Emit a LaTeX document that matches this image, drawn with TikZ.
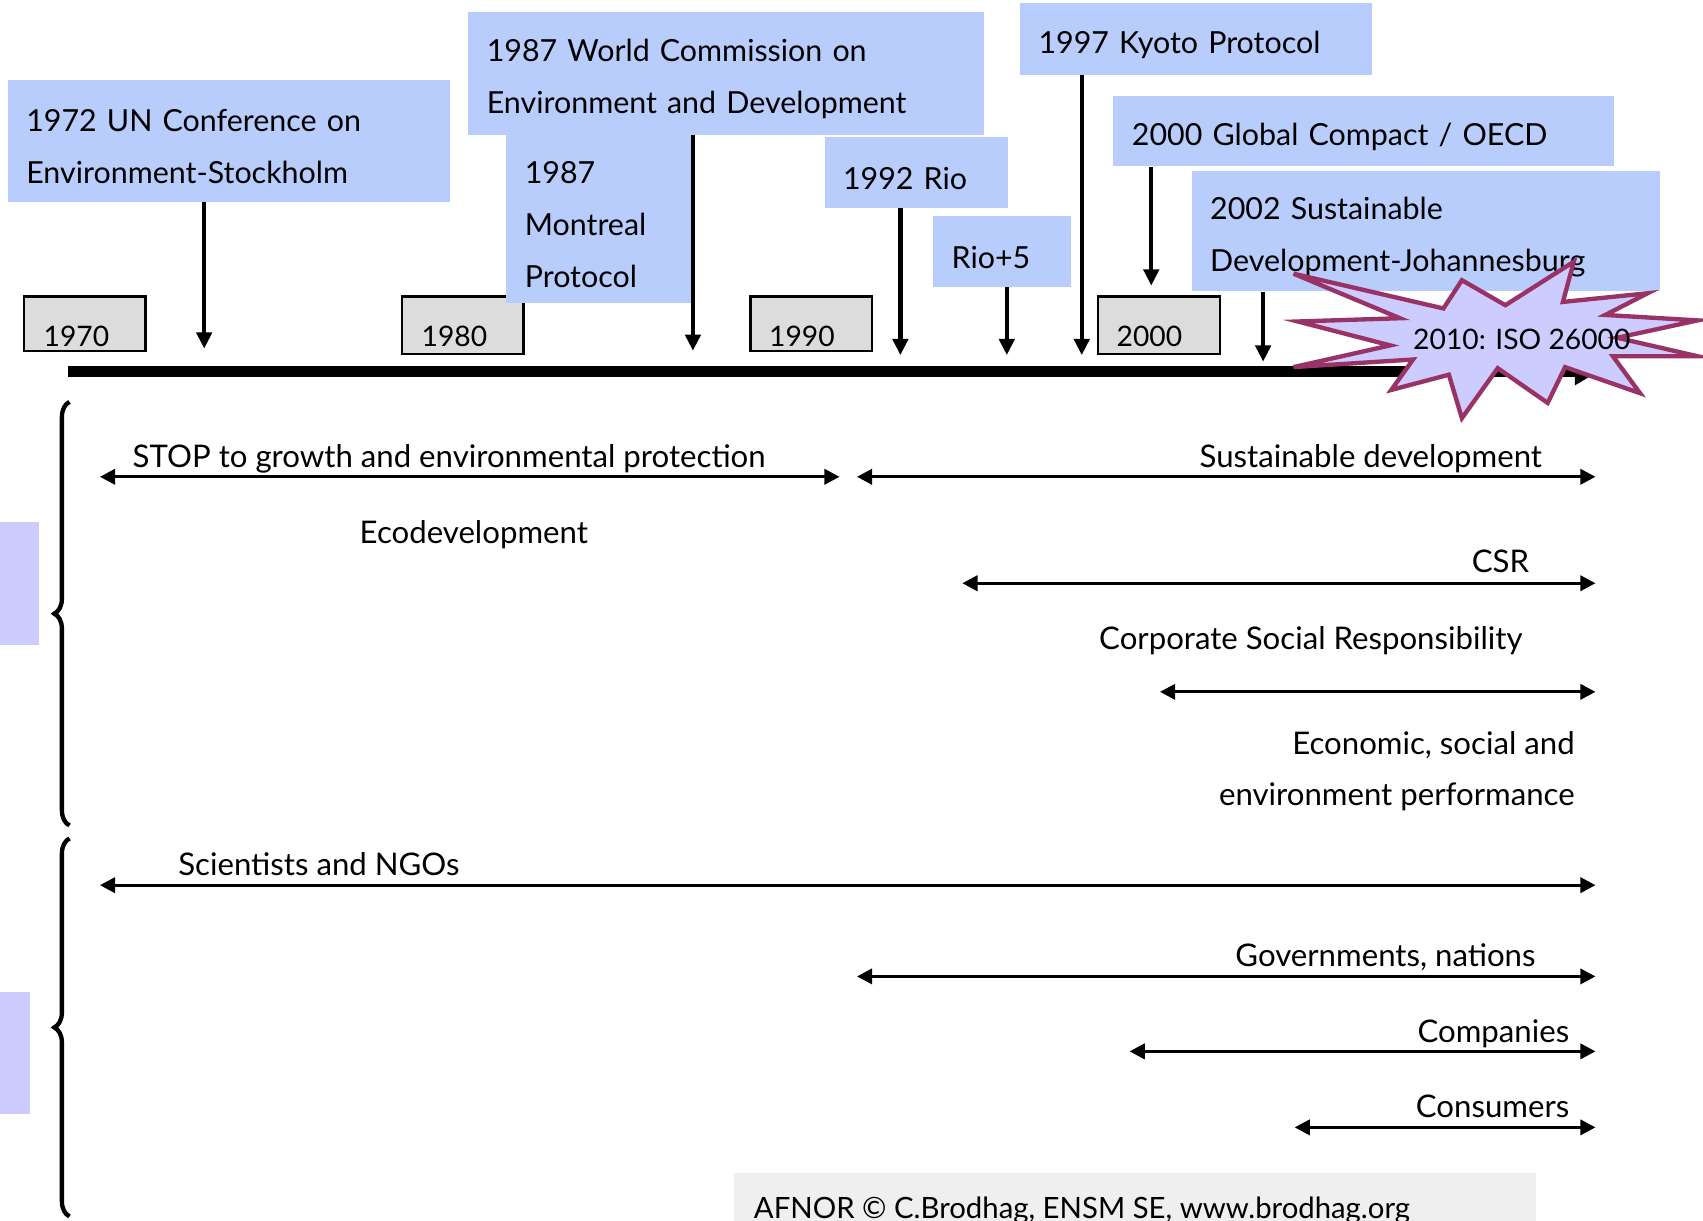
\documentclass[tikz,border=0pt]{standalone}
\usepackage{fontspec}
\setmainfont{Lato}
\usetikzlibrary{arrows.meta,decorations.pathreplacing}
\definecolor{EventBlue}{RGB}{184,205,251}
\definecolor{DecadeGray}{RGB}{220,220,220}
\definecolor{BurstFill}{RGB}{204,204,255}
\definecolor{BurstLine}{RGB}{153,51,102}
\definecolor{TabLilac}{RGB}{204,204,255}
\definecolor{FooterGray}{RGB}{239,239,239}
\newcommand{\tlfont}{\fontsize{28}{48}\selectfont}
\newcommand{\lblfont}{\fontsize{28.7}{48}\selectfont}
\newcommand{\yearfont}{\fontsize{26}{30}\selectfont}

\begin{document}
\begin{tikzpicture}
            [x=1pt,y=-1pt,
             event/.style = {fill=EventBlue,anchor=north west,align=left,inner xsep=17pt,inner ysep=0pt,font=\tlfont,execute at begin node=\rule{0pt}{31pt}},
             decade/.style = {draw,line width=2pt,fill=DecadeGray,anchor=north west,minimum width=112pt,minimum height=50pt,inner sep=0pt},
             decadetext/.style = {anchor=base west,inner sep=0pt,font=\yearfont},
             drop/.style = {line width=4pt,-{Triangle[length=15pt,width=14pt]}},
             span/.style = {line width=3pt,{Triangle[length=14pt,width=14pt]}-{Triangle[length=14pt,width=14pt]}},
             lbl/.style = {inner sep=0pt,font=\lblfont}]
            \useasboundingbox (0,0) rectangle (1568,1124);
            \clip (0,0) rectangle (1568,1124);

            % side tabs and footer
            \fill[TabLilac] (0,481) rectangle (36,594);
            \fill[TabLilac] (0,913) rectangle (28,1026);
            \fill[FooterGray] (676,1080) rectangle (1414,1140);
            \node[lbl,font=\fontsize{27}{30}\selectfont,anchor=base west] (Credit) at (694,1122) {AFNOR © C.Brodhag, ENSM SE, www.brodhag.org};

            % decades
            \node[decade] (D1970) at (21,272) {};
            \node[decade,minimum height=53pt] (D1980) at (369,272) {};
            \node[decade] (D1990) at (690,272) {};
            \node[decade,minimum height=53pt] (D2000) at (1010,272) {};
            \node[decadetext] (L1970) at ([xshift=19pt,yshift=5pt]D1970.south west) {1970};
            \node[decadetext] (L1980) at ([xshift=19pt,yshift=8pt]D1980.south west) {1980};
            \node[decadetext] (L1990) at ([xshift=18pt,yshift=5pt]D1990.south west) {1990};
            \node[decadetext] (L2000) at ([xshift=18pt,yshift=8pt]D2000.south west) {2000};

            % events
            \node[event,text width=373pt,minimum height=113pt] (Stockholm) at (7,73) {1972 UN Conference on\\Environment-Stockholm};
            \node[event,text width=441pt,minimum height=113pt] (Brundtland) at (431,11) {1987 World Commission on\\Environment and Development};
            \node[event,text width=136pt,minimum height=155pt,execute at begin node=\rule{0pt}{26pt}] (Montreal) at (466,124) {1987\\Montreal\\Protocol};
            \node[event,text width=290pt,minimum height=66pt] (Kyoto) at (939,3) {1997 Kyoto Protocol};
            \node[event,text width=135pt,minimum height=65pt] (Rio) at (759,126) {1992 Rio};
            \node[event,text width=93pt,minimum height=65pt] (RioFive) at (859,199) {Rio+5};
            \node[event,text width=427pt,minimum height=65pt] (Compact) at (1025,88) {2000 Global Compact / OECD};
            \node[event,text width=397pt,minimum height=111pt] (Johannesburg) at (1097,157) {2002 Sustainable\\Development-Johannesburg};

            \coordinate (T1972) at (188,321);
            \coordinate (T1987) at (638,323);
            \coordinate (T1992) at (829,327);
            \coordinate (T1997a) at (927,327);
            \coordinate (T1997b) at (996,327);
            \coordinate (T2000) at (1060,263);
            \coordinate (T2002) at (1163,333);
            \path[drop] (Stockholm.south -| T1972) edge (T1972);
            \path[drop] (Brundtland.south -| T1987) edge (T1987);
            \path[drop] (Rio.south -| T1992) edge (T1992);
            \path[drop] (RioFive.south -| T1997a) edge (T1997a);
            \path[drop] (Kyoto.south -| T1997b) edge (T1997b);
            \path[drop] (Compact.south -| T2000) edge (T2000);
            \path[drop] (Johannesburg.south -| T2002) edge (T2002);

            % time axis
            \coordinate (TimeStart) at (63,342);
            \coordinate (TimeEnd) at (1472,342);
            \draw[line width=10pt,-{Triangle[length=22pt,width=24pt]}] (TimeStart) -- (TimeEnd);

            % ISO 26000 burst
            \filldraw[fill=BurstFill,draw=BurstLine,line width=4pt]
                (1191,252) -- (1329,284) -- (1346,258) -- (1386,281) -- (1449,241) -- (1439,278)
                -- (1517,270) -- (1478,290) -- (1563,295) -- (1489,311) -- (1563,328) -- (1485,328)
                -- (1510,362) -- (1441,338) -- (1425,371) -- (1379,339) -- (1346,385) -- (1334,345)
                -- (1281,359) -- (1301,331) -- (1191,338) -- (1280,318) -- (1195,296) -- (1289,293) -- cycle;
            \node[lbl,font=\yearfont,anchor=base west] (Iso) at (1301,322) {2010: ISO 26000};

            % braces
            \draw[line width=4pt,decorate,decoration={brace,amplitude=14pt}] (64,760) -- (64,370);
            \draw[line width=4pt,decorate,decoration={brace,amplitude=14pt}] (64,1120) -- (64,772);

            % concepts
            \coordinate (StopL) at (92,439);
            \coordinate (StopR) at (773,439);
            \coordinate (SustL) at (789,439);
            \coordinate (SustR) at (1469,439);
            \coordinate (CsrL) at (886,537);
            \coordinate (CsrR) at (1469,537);
            \coordinate (PerfL) at (1068,637);
            \coordinate (PerfR) at (1469,637);
            \path[span] (StopL) edge (StopR);
            \path[span] (SustL) edge (SustR);
            \path[span] (CsrL) edge (CsrR);
            \path[span] (PerfL) edge (PerfR);
            \node[lbl,anchor=base west] (Stop) at (122,430) {STOP to growth and environmental protection};
            \node[lbl,anchor=base east] (Sustainable) at (1420,430) {Sustainable development};
            \node[lbl,anchor=base west] (Ecodev) at (331,500) {Ecodevelopment};
            \node[lbl,anchor=base east] (Csr) at (1408,527) {CSR};
            \node[lbl,anchor=base east] (CsrLong) at (1402,598) {Corporate Social Responsibility};
            \node[lbl,anchor=base east] (PerfA) at (1450,695) {Economic, social and};
            \node[lbl,anchor=base east] (PerfB) at (1450,742) {environment performance};

            % actors
            \coordinate (SciL) at (92,815);
            \coordinate (SciR) at (1469,815);
            \coordinate (GovL) at (789,899);
            \coordinate (GovR) at (1469,899);
            \coordinate (ComL) at (1040,968);
            \coordinate (ComR) at (1469,968);
            \coordinate (ConL) at (1192,1038);
            \coordinate (ConR) at (1469,1038);
            \path[span] (SciL) edge (SciR);
            \path[span] (GovL) edge (GovR);
            \path[span] (ComL) edge (ComR);
            \path[span] (ConL) edge (ConR);
            \node[lbl,anchor=base west] (Scientists) at (164,806) {Scientists and NGOs};
            \node[lbl,anchor=base east] (Governments) at (1414,890) {Governments, nations};
            \node[lbl,anchor=base east] (Companies) at (1445,960) {Companies};
            \node[lbl,anchor=base east] (Consumers) at (1445,1029) {Consumers};
\end{tikzpicture}
\end{document}
